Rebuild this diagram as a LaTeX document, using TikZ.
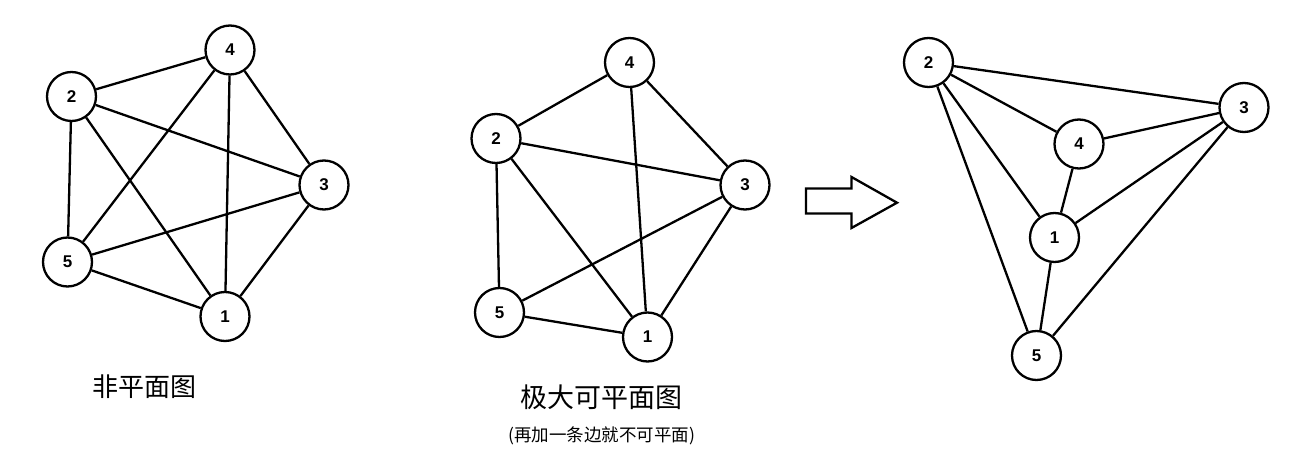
\documentclass[tikz,border=0pt]{standalone}
\usepackage{fontspec}
\setmainfont{Liberation Sans}
\newfontfamily\cjk{Noto Sans CJK SC}
\begin{document}
\begin{tikzpicture}[x=1pt,y=-1pt,
  vtx/.style={circle,draw,line width=2.3pt,minimum size=49pt,inner sep=0pt,font=\fontsize{17}{17}\selectfont\bfseries,fill=white},
  edge/.style={line width=2.3pt}]
\useasboundingbox (0,0) rectangle (1296,454);
% graph 1
\node[vtx] (a4) at (230,50) {4};
\node[vtx] (a2) at (71.5,96.5) {2};
\node[vtx] (a3) at (324,185) {3};
\node[vtx] (a5) at (67.5,262) {5};
\node[vtx] (a1) at (225,316.5) {1};
\foreach \u/\v in {a2/a4,a2/a3,a2/a5,a2/a1,a4/a5,a4/a1,a4/a3,a3/a5,a3/a1,a5/a1}
  \draw[edge] (\u) -- (\v);
% graph 2
\node[vtx] (b4) at (629.5,62.5) {4};
\node[vtx] (b2) at (496,138.5) {2};
\node[vtx] (b3) at (745,185) {3};
\node[vtx] (b5) at (499.5,312.5) {5};
\node[vtx] (b1) at (647.5,337) {1};
\foreach \u/\v in {b2/b4,b2/b3,b2/b5,b2/b1,b4/b1,b4/b3,b3/b5,b3/b1,b5/b1}
  \draw[edge] (\u) -- (\v);
% arrow
\draw[line width=2.3pt,line join=miter] (806,188.5) -- (851.5,188.5) -- (851.5,177) -- (897,202.7) -- (851.5,228) -- (851.5,213.5) -- (806,213.5) -- cycle;
% graph 3
\node[vtx] (c2) at (928.5,62.5) {2};
\node[vtx] (c3) at (1244,107.5) {3};
\node[vtx] (c4) at (1079,144) {4};
\node[vtx] (c1) at (1054.5,237.5) {1};
\node[vtx] (c5) at (1036.5,355.5) {5};
\foreach \u/\v in {c2/c3,c2/c4,c2/c1,c2/c5,c4/c3,c4/c1,c1/c3,c1/c5,c3/c5}
  \draw[edge] (\u) -- (\v);
% labels
\node[font=\cjk\fontsize{26}{26}\selectfont] (t1) at (144.5,387) {非平面图};
\node[font=\cjk\fontsize{27}{27}\selectfont] (t2) at (601.5,397) {极大可平面图};
\node[font=\cjk\fontsize{17.5}{17.5}\selectfont] (t3) at (601.5,436) {(再加一条边就不可平面)};
\end{tikzpicture}
\end{document}
